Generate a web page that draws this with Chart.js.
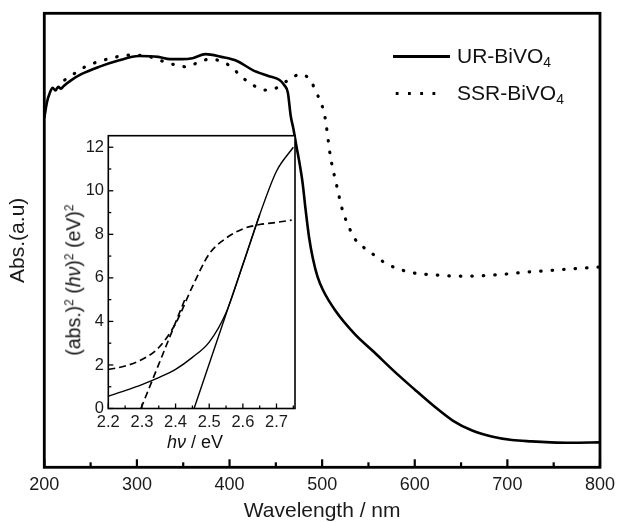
<!DOCTYPE html>
<html>
<head>
<meta charset="utf-8">
<script src="https://cdn.jsdelivr.net/npm/chart.js@4"></script>
<style>
  html, body { margin: 0; padding: 0; background: #fff; }
  #wrap { position: relative; width: 622px; height: 522px; font-family: "Liberation Sans", Arial, sans-serif; color: #111; }
  #mainChart { position: absolute; left: 0; top: 0; }
  #insetChart { position: absolute; left: 40px; top: 120px; }
  .sample { position: absolute; height: 3px; }
  .solid { background: #000; }
  .dotted { background: radial-gradient(circle, #000 1.5px, transparent 1.8px) 0 0 / 12.25px 3px repeat-x; }
  .lbl { position: absolute; font-size: 21px; line-height: 24px; white-space: nowrap; }
  .lbl sub { font-size: 14px; vertical-align: -4px; line-height: 0; }
  .ititle { position: absolute; white-space: nowrap; line-height: 1; }
  .ititle sup { font-size: 0.62em; vertical-align: 0.55em; line-height: 0; }
</style>
</head>
<body>
<div id="wrap">
  <canvas id="mainChart" width="622" height="522"></canvas>
  <canvas id="insetChart" width="262" height="340"></canvas>

  <span class="sample solid" style="left:393px; top:54.5px; width:57px;"></span>
  <span class="lbl" style="left:457px; top:44px;">UR-BiVO<sub>4</sub></span>
  <span class="sample dotted" style="left:391px; top:91.5px; width:52px;"></span>
  <span class="lbl" style="left:457px; top:81px;">SSR-BiVO<sub>4</sub></span>

  <div class="ititle" id="insetY" style="left:73.5px; top:280px; font-size:19.5px; transform: translate(-50%, -50%) rotate(-90deg);">(abs.)<sup>2</sup> (<i>hν</i>)<sup>2</sup> (eV)<sup>2</sup></div>
  <div class="ititle" id="insetX" style="left:195px; top:442px; font-size:18px; transform: translate(-50%, -50%);"><i>hν</i> / eV</div>
</div>

<script>
// ========= Data: main absorption spectra =========
const urWavelength = [200, 203, 206, 209, 212, 215, 218, 221, 230, 240, 259, 280, 302, 323, 336, 348, 360, 374, 391, 408, 425, 442, 454, 459, 463, 466, 469, 472, 476, 479, 482, 486, 490, 495, 501, 514, 535, 556, 577, 599, 620, 641, 662, 683, 705, 726, 747, 768, 800];
const urAbs = [77.0, 80.5, 82.5, 83.6, 83.0, 83.8, 83.4, 84.0, 85.4, 86.6, 88.2, 89.6, 90.6, 90.4, 89.9, 89.9, 90.1, 91.0, 90.4, 89.5, 87.5, 86.2, 85.3, 84.2, 82.5, 77.5, 74.5, 71.0, 66.5, 62.5, 57.0, 50.5, 46.0, 42.0, 39.0, 34.6, 29.4, 25.4, 21.3, 17.3, 13.6, 10.3, 8.1, 6.8, 6.0, 5.7, 5.5, 5.4, 5.5];

const ssrWavelength = [222, 233, 244, 256, 268, 292, 310, 330, 342, 354, 367, 379, 390, 402, 413, 426, 438, 450, 465, 477, 488, 494, 499, 503, 509, 516, 522, 529, 535, 552, 569, 594, 620, 654, 688, 722, 756, 798];
const ssrAbs = [85.3, 86.8, 88.2, 89.2, 89.9, 90.8, 90.6, 89.3, 88.6, 88.2, 89.3, 89.9, 89.5, 88.2, 86.0, 84.1, 83.1, 83.5, 85.5, 86.6, 85.0, 82.4, 80.2, 77.2, 68.4, 61.8, 56.6, 52.9, 50.4, 47.4, 44.9, 43.0, 42.4, 42.1, 42.4, 43.0, 43.5, 44.1];

const mainMajorTicks = [200, 300, 400, 500, 600, 700, 800];
const mainMinorTicks = [250, 350, 450, 550, 650, 750];

// ========= Data: inset Tauc plot =========
const insetEnergy = [2.2, 2.25, 2.3, 2.35, 2.4, 2.45, 2.5, 2.55, 2.6, 2.65, 2.7, 2.75];
const urTauc = [0.56, 0.82, 1.1, 1.42, 1.8, 2.35, 3.05, 4.4, 6.6, 8.9, 10.9, 12.0];
const ssrEnergy = [2.2, 2.25, 2.3, 2.35, 2.4, 2.45, 2.5, 2.55, 2.6, 2.65, 2.7, 2.745];
const ssrTauc = [1.79, 1.95, 2.25, 2.8, 3.9, 5.6, 7.1, 7.82, 8.25, 8.45, 8.55, 8.65];

const urFitEnergy = [2.455, 2.65];
const urFitValue = [0, 8.9];
const ssrFitEnergy = [2.297, 2.43];
const ssrFitValue = [0, 5.1];

const insetXMajor = [2.2, 2.3, 2.4, 2.5, 2.6, 2.7];
const insetXMinor = [2.25, 2.35, 2.45, 2.55, 2.65, 2.75];
const insetYMajor = [0, 2, 4, 6, 8, 10, 12];
const insetYMinor = [1, 3, 5, 7, 9, 11];

const FONT = '"Liberation Sans", Arial, sans-serif';
const pts = (xs, ys) => xs.map((x, i) => ({ x, y: ys[i] }));

// frame + inward ticks, drawn from the chart's own scales
const frameTicks = {
  id: 'frameTicks',
  beforeDraw(chart, args, opts) {
    if (!opts.fill) return;
    const { ctx, chartArea: a } = chart;
    ctx.save();
    ctx.fillStyle = opts.fill;
    ctx.fillRect(a.left, a.top, a.right - a.left, a.bottom - a.top);
    ctx.restore();
  },
  afterDraw(chart, args, opts) {
    const { ctx, chartArea: a } = chart;
    ctx.save();
    ctx.strokeStyle = '#000';
    ctx.lineWidth = opts.tickWidth;
    (opts.marks || []).forEach(m => {
      const scale = chart.scales[m.axis];
      m.values.forEach(v => {
        const p = scale.getPixelForValue(v);
        ctx.beginPath();
        if (m.axis === 'x') {
          ctx.moveTo(p, a.bottom);
          ctx.lineTo(p, a.bottom - m.len);
        } else {
          ctx.moveTo(a.left, p);
          ctx.lineTo(a.left + m.len, p);
        }
        ctx.stroke();
      });
    });
    ctx.lineWidth = opts.frameWidth;
    ctx.strokeRect(a.left, a.top, a.right - a.left, a.bottom - a.top);
    ctx.restore();
  }
};

// ========= Main chart =========
new Chart(document.getElementById('mainChart'), {
  type: 'line',
  data: {
    datasets: [
      {
        label: 'UR-BiVO4',
        data: pts(urWavelength, urAbs),
        borderColor: '#000',
        borderWidth: 2.6,
        pointRadius: 0,
        cubicInterpolationMode: 'monotone'
      },
      {
        label: 'SSR-BiVO4',
        data: pts(ssrWavelength, ssrAbs),
        borderColor: '#000',
        borderWidth: 3.2,
        borderDash: [0.5, 11],
        borderCapStyle: 'round',
        pointRadius: 0,
        cubicInterpolationMode: 'monotone'
      }
    ]
  },
  options: {
    responsive: false,
    animation: false,
    devicePixelRatio: 1,
    layout: { padding: { top: 13.3, right: 17.5, left: 0, bottom: 0 } },
    scales: {
      x: {
        type: 'linear',
        min: 200,
        max: 800,
        afterFit: s => { s.height = 54.7; },
        afterBuildTicks: s => { s.ticks = mainMajorTicks.map(v => ({ value: v })); },
        grid: { display: false, drawTicks: false },
        border: { display: false },
        ticks: { padding: 7, color: '#1a1a1a', font: { family: FONT, size: 18 } },
        title: {
          display: true,
          text: 'Wavelength / nm',
          color: '#1a1a1a',
          padding: { top: 0, bottom: 0 },
          font: { family: FONT, size: 21, lineHeight: 1 }
        }
      },
      y: {
        min: 0,
        max: 100,
        afterFit: s => { s.width = 44.3; },
        grid: { display: false, drawTicks: false },
        border: { display: false },
        ticks: { display: false },
        title: {
          display: true,
          text: 'Abs.(a.u)',
          color: '#1a1a1a',
          padding: { top: 8, bottom: 0 },
          font: { family: FONT, size: 21, lineHeight: 1 }
        }
      }
    },
    plugins: {
      legend: { display: false },
      tooltip: { enabled: false },
      frameTicks: {
        frameWidth: 2.8,
        tickWidth: 2.2,
        marks: [
          { axis: 'x', values: mainMajorTicks, len: 8 },
          { axis: 'x', values: mainMinorTicks, len: 5 }
        ]
      }
    }
  },
  plugins: [frameTicks]
});

// ========= Inset chart =========
new Chart(document.getElementById('insetChart'), {
  type: 'line',
  data: {
    datasets: [
      {
        label: 'UR',
        data: pts(insetEnergy, urTauc),
        borderColor: '#000',
        borderWidth: 1.4,
        pointRadius: 0,
        cubicInterpolationMode: 'monotone'
      },
      {
        label: 'UR fit',
        data: pts(urFitEnergy, urFitValue),
        borderColor: '#000',
        borderWidth: 1.4,
        pointRadius: 0
      },
      {
        label: 'SSR',
        data: pts(ssrEnergy, ssrTauc),
        borderColor: '#000',
        borderWidth: 1.7,
        borderDash: [7, 4],
        pointRadius: 0,
        cubicInterpolationMode: 'monotone'
      },
      {
        label: 'SSR fit',
        data: pts(ssrFitEnergy, ssrFitValue),
        borderColor: '#000',
        borderWidth: 1.7,
        borderDash: [7, 4],
        pointRadius: 0
      }
    ]
  },
  options: {
    responsive: false,
    animation: false,
    devicePixelRatio: 1,
    layout: { padding: { top: 15.7, right: 7, left: 0, bottom: 0 } },
    scales: {
      x: {
        type: 'linear',
        min: 2.2,
        max: 2.755,
        afterFit: s => { s.height = 51.5; },
        afterBuildTicks: s => { s.ticks = insetXMajor.map(v => ({ value: v })); },
        grid: { display: false, drawTicks: false },
        border: { display: false },
        ticks: {
          padding: 4,
          color: '#1a1a1a',
          font: { family: FONT, size: 16.5 },
          callback: v => Number(v).toFixed(1)
        }
      },
      y: {
        min: 0,
        max: 12.53,
        afterFit: s => { s.width = 68.3; },
        afterBuildTicks: s => { s.ticks = insetYMajor.map(v => ({ value: v })); },
        grid: { display: false, drawTicks: false },
        border: { display: false },
        ticks: { padding: 4.3, color: '#1a1a1a', font: { family: FONT, size: 16.5 } }
      }
    },
    plugins: {
      legend: { display: false },
      tooltip: { enabled: false },
      frameTicks: {
        fill: '#fff',
        frameWidth: 1.6,
        tickWidth: 1.3,
        marks: [
          { axis: 'x', values: insetXMajor, len: 5 },
          { axis: 'x', values: insetXMinor, len: 3 },
          { axis: 'y', values: insetYMajor, len: 5 },
          { axis: 'y', values: insetYMinor, len: 3 }
        ]
      }
    }
  },
  plugins: [frameTicks]
});
</script>
</body>
</html>
